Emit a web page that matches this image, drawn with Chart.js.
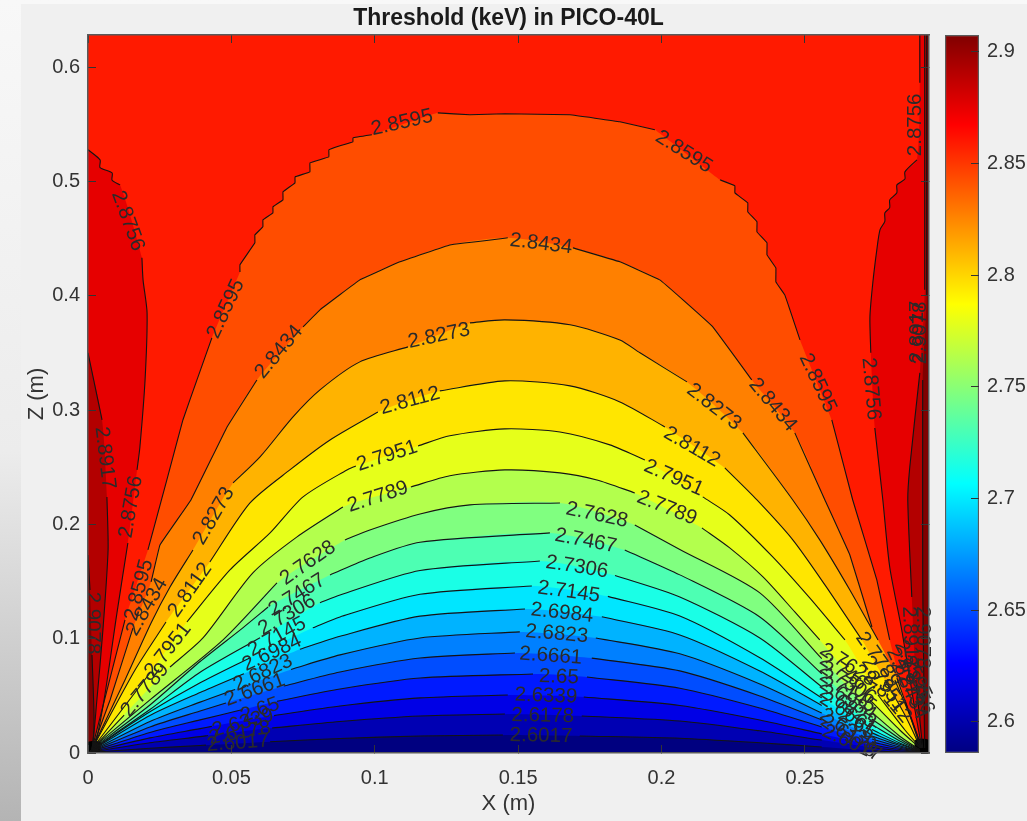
<!DOCTYPE html>
<html>
<head>
<meta charset="utf-8">
<title>Threshold (keV) in PICO-40L</title>
<script src="https://cdn.jsdelivr.net/npm/chart.js@4"></script>
<style>
    html, body { margin: 0; padding: 0; width: 1027px; height: 821px; overflow: hidden; }
    body { position: relative; background: linear-gradient(#f8f8f8 0%, #ececec 55%, #b4b4b4 100%); }
    #panel { position: absolute; left: 21px; top: 4px; width: 1006px; height: 817px; background: #f0f0f0; }
    #graph { position: absolute; left: 0; top: 0; }
    #colorbar { position: absolute; left: 935px; top: 0; }
</style>
</head>
<body>
<div id="panel"></div>
<canvas id="graph" width="935" height="821"></canvas>
<canvas id="colorbar" width="92" height="821"></canvas>
<script>
// Axis ranges and ticks
var xMax = 0.2933;
var zMax = 0.628;
var xTicks = [0, 0.05, 0.1, 0.15, 0.2, 0.25];
var zTicks = [0, 0.1, 0.2, 0.3, 0.4, 0.5, 0.6];
var colorMin = 2.586;
var colorMax = 2.9076;
var colorTicks = [2.6, 2.65, 2.7, 2.75, 2.8, 2.85, 2.9];
var jetStops = [0, 0.125, 0.375, 0.625, 0.875, 1];
var jetColors = ['#000080', '#0000ff', '#00ffff', '#ffff00', '#ff0000', '#800000'];

// Colour of each band, lowest first
var bandColors = ['#000080', '#0000b3', '#0000e6', '#001aff', '#004dff', '#0080ff', '#00b3ff',
    '#00e6ff', '#1affe6', '#4dffb3', '#80ff80', '#b3ff4d', '#e6ff1a', '#ffe600', '#ffb300',
    '#ff8000', '#ff4d00', '#ff1a00', '#e60000', '#b30000', '#800000'];

// Contours as [x, z], null is the break left for a label
var level2_6017 = [[.0014,.0006],[.0216,.0041],[.0391,.0066],[.0411,.0069],null,[.0635,.0099],[.0879,.0127],[.1158,.0149],[.1447,.0157],null,[.1715,.0149],[.2064,.0129],[.2343,.0089],[.2559,.0052],null,[.2734,.0022],[.2831,.0009],[.2901,.0006]];
var level2_6178 = [[.0014,.001],[.0216,.0089],[.0391,.0143],[.0418,.0153],null,[.0642,.0218],[.0879,.0276],[.1158,.0324],[.1454,.0341],null,[.1722,.0324],[.2064,.028],[.2343,.0194],[.2559,.0113],null,[.2734,.0048],[.2831,.002],[.2901,.0008]];
var level2_6339 = [[.0014,.0012],[.0216,.0132],[.0391,.0213],[.0432,.0233],null,[.0649,.0327],[.0879,.0411],[.1158,.0482],[.1464,.0507],null,[.1729,.049],[.2064,.0416],[.2343,.0289],[.2559,.0167],null,[.2734,.0071],[.2831,.003],[.2901,.001]];
var level2_65 = [[.0014,.0015],[.0216,.018],[.0391,.029],[.054,.038],null,[.0659,.0453],[.0879,.056],[.1158,.0656],[.1552,.0691],null,[.174,.0665],[.2064,.0567],[.2343,.0394],[.2559,.0228],null,[.2734,.0097],[.2831,.0041],[.2901,.0012]];
var level2_6661 = [[.0014,.0018],[.0216,.0228],[.0391,.0368],[.0481,.0438],null,[.0683,.0586],[.0879,.0709],[.1158,.0831],[.1489,.0875],null,[.1757,.083],[.2064,.0718],[.2343,.0499],[.2559,.0289],null,[.2734,.0122],[.2831,.0052],[.2901,.0014]];
var level2_6823 = [[.0014,.0021],[.0216,.0275],[.0391,.0445],[.0513,.0556],null,[.0708,.0731],[.0879,.0858],[.1158,.1006],[.1506,.1059],null,[.1771,.1006],[.2064,.0868],[.2343,.0604],[.2559,.0349],null,[.2734,.0148],[.2831,.0064],[.2901,.0016]];
var level2_6984 = [[.0014,.0024],[.0216,.0328],[.0391,.0529],[.0544,.0693],null,[.0739,.0907],[.0879,.1021],[.1158,.1197],[.1524,.126],null,[.1792,.1191],[.2064,.1033],[.2343,.0718],[.2559,.0416],null,[.2734,.0176],[.2831,.0076],[.2901,.0018]];
var level2_7145 = [[.0014,.0028],[.0216,.036],[.0391,.0614],[.0565,.0833],null,[.0784,.1095],[.0879,.119],[.1158,.1388],[.1548,.1461],null,[.1813,.137],[.2064,.1198],[.2343,.0833],[.2559,.0482],null,[.2734,.0205],[.2831,.0088],[.2901,.002]];
var level2_7306 = [[.0014,.0032],[.0216,.038],[.0391,.0706],[.06,.1008],null,[.0809,.1315],[.0879,.1382],[.1158,.1596],[.1576,.168],null,[.1838,.1553],[.2064,.1365],[.2343,.1006],[.2559,.0578],null,[.2734,.0248],[.2831,.0105],[.2901,.0022]];
var level2_7467 = [[.0014,.0036],[.0216,.042],[.0391,.08],[.054,.1095],[.0628,.1277],null,[.0844,.1557],[.0983,.1706],[.1158,.1844],[.1611,.1925],null,[.1872,.1776],[.2064,.1558],[.2343,.119],[.2559,.0693],null,[.2734,.0298],[.2831,.0125],[.2901,.0025]];
var level2_7628 = [[.0014,.004],[.0216,.0464],[.0471,.0989],[.0659,.1487],null,[.0896,.1864],[.0983,.1951],[.1158,.2091],[.1332,.217],[.1646,.2187],null,[.1907,.1995],[.2064,.178],[.2343,.14],[.2559,.0825],null,[.2734,.0355],[.2831,.0147],[.2901,.0028]];
var level2_7789 = [[.0014,.0035],[.0126,.0332],null,[.0286,.0752],[.0401,.1006],[.0575,.1575],[.0729,.189],[.0889,.2152],null,[.1126,.2327],[.1262,.2425],[.1454,.2476],[.1646,.245],[.1775,.2388],[.1907,.2275],null,[.2141,.1969],[.2238,.1794],[.2354,.154],[.2465,.1234],[.2552,.0989],null,[.2727,.0464],[.2831,.0201],[.2901,.0044]];
var level2_7951 = [[.0014,.0035],[.0216,.07],null,[.0345,.1146],[.0495,.1601],[.0635,.1925],[.075,.224],[.0903,.2476],[.0934,.2511],null,[.1151,.2686],[.1262,.2775],[.1454,.2835],[.1646,.2808],[.182,.2695],[.1942,.2563],null,[.2144,.224],[.2238,.2082],[.2388,.1715],[.2517,.1356],[.264,.0989],null,[.2755,.0507],[.2849,.0201],[.2904,.0044]];
var level2_8112 = [[.0014,.0035],[.0164,.0726],[.0272,.1146],null,[.0425,.1671],[.0565,.2187],[.0704,.2476],[.0844,.2738],[.1011,.2983],null,[.1227,.3167],[.1454,.3255],[.1681,.3211],[.1855,.3071],[.2012,.2852],null,[.2221,.2493],[.2333,.2213],[.2458,.1864],[.257,.147],[.2699,.0989],null,[.2779,.0639],[.2849,.0332],[.2904,.0044]];
var level2_8273 = [[.0014,.0035],[.0129,.0639],[.022,.1137],[.0286,.1452],[.0366,.1776],null,[.0506,.2362],[.06,.259],[.0715,.294],[.0809,.3176],[.0948,.3421],[.1116,.3552],null,[.1332,.3762],[.1454,.3788],[.1681,.3745],[.1855,.3613],[.1925,.35],[.2089,.3246],null,[.2284,.28],[.2458,.2213],[.2552,.1864],[.2657,.1426],[.2755,.0989],null,[.2821,.0656],[.2866,.0332],[.2904,.0044]];
var level2_8434 = [[.0014,.0035],[.0077,.0464],[.0157,.1094],null,[.022,.1496],[.0251,.182],[.0359,.2213],[.0485,.2852],[.0589,.3263],null,[.075,.3727],[.0809,.3876],[.0948,.4138],[.1088,.4296],[.1262,.4444],[.1464,.4506],null,[.1691,.4418],[.1855,.4296],[.1994,.4138],[.2075,.3963],[.2179,.3727],[.2315,.3263],null,[.2465,.28],[.257,.2213],[.2657,.1732],[.2734,.1102],null,[.2814,.0639],[.2866,.0332],[.2908,.0044]];
var level2_8595 = [[.0014,.0035],[.0129,.1164],null,[.0209,.1776],[.0275,.2388],[.0331,.2913],[.038,.3263],[.0432,.3631],null,[.053,.4208],[.053,.427],[.0582,.4462],[.0582,.4532],[.061,.4602],[.061,.4663],[.0645,.4724],[.0645,.4777],[.068,.4838],[.068,.4908],[.0722,.4987],[.0722,.5039],[.0774,.5083],[.0774,.5162],[.084,.5214],[.084,.5276],[.0879,.5311],[.0924,.5345],[.0924,.5380],[.099,.5407],null,[.122,.5599],[.1332,.5582],[.1454,.5591],[.1681,.5582],[.1855,.5521],[.1977,.5451],null,[.2204,.5013],[.2256,.4961],[.2256,.4899],[.2301,.4812],[.2301,.4733],[.2333,.4646],[.2333,.4558],[.2368,.4462],[.2368,.4357],[.2399,.4243],[.2399,.4121],[.243,.4007],[.2448,.3876],[.2483,.3613],null,[.2594,.2913],[.2667,.2213],[.2751,.1514],[.2796,.0989],null,[.2849,.0464],[.2908,.0044]];

// Side strips, they close on the plot edges
var left2_8756 = [[0,.5276],[.0042,.5188],[.0042,.5120],[.0084,.5074],[.0084,.5010],[.0112,.4969],null,[.0188,.4331],[.0192,.4138],[.0206,.385],[.0199,.3263],[.0181,.2677],[.0171,.2476],null,[.0139,.1837],[.0101,.1225],[.0056,.0464],[.0021,.0035],[0,0]];
var left2_8917 = [[0,.35],[.0049,.2913],null,[.0066,.224],[.007,.1776],[.0052,.1076],[.0031,.0464],[.0014,.0035],[0,0]];
var left2_9078 = [[0,.1732],[.0007,.1426],null,[.0014,.0857],[.0021,.0289],[.0014,.0035],[0,0]];
var right2_8756 = [[.2901,.628],[.2901,.5862],null,[.2891,.5188],[.2849,.5083],[.2849,.5020],[.2821,.4969],[.2821,.4900],[.2796,.4838],[.2796,.4770],[.2779,.4724],[.2779,.4650],[.2762,.4576],[.2751,.4401],[.2737,.4112],[.2727,.3815],[.273,.35],null,[.2744,.2843],[.2772,.2213],[.2796,.1627],[.2838,.1076],[.2884,.0376],[.2908,.0044]];
var right2_8917 = [[.2918,.628],[.2918,.4051],null,[.2901,.3325],[.2866,.2502],[.2859,.2213],[.2873,.1365],null,[.2887,.0639],[.2911,.0044]];
var right2_9078 = [[.2925,.628],[.2925,.3998],null,[.2911,.3263],[.2911,.1514],[.2915,.0639],[.2918,.0044]];

// Black spots where all the lines meet
var cornerLeft = [[0,0],[0,.0096],[.0042,.0096],[.0042,0]];
var cornerRight = [[.2885,0],[.2885,.0114],[.2933,.0114],[.2933,0]];

var arches = [level2_6017, level2_6178, level2_6339, level2_65, level2_6661, level2_6823, level2_6984,
    level2_7145, level2_7306, level2_7467, level2_7628, level2_7789, level2_7951, level2_8112,
    level2_8273, level2_8434, level2_8595];

// Contour labels
var labelTexts = ['2.8595','2.8595','2.8434','2.8273','2.8112','2.7951','2.7789','2.7628','2.7467','2.7306','2.7145','2.6984','2.6823','2.6661','2.65','2.6339','2.6178','2.6017',
    '2.7789','2.7951','2.8112','2.8273','2.8434','2.8595','2.8756','2.8756','2.8917','2.9078',
    '2.8756','2.8917','2.8756','2.8595','2.8434','2.8273','2.8112','2.8595','2.8434','2.7951','2.7789','2.9078',
    '2.7628','2.7467','2.7306','2.7145','2.6984','2.6823','2.6661','2.65','2.6339','2.6178','2.6017',
    '2.7628','2.7467','2.7306','2.7145','2.6984','2.6823','2.6661','2.65','2.6339','2.6178','2.6017',
    '2.7789','2.7951','2.8112','2.8273','2.8434','2.8595','2.8756','2.8917','2.9078'];
var labelX = [.1095,.2078,.158,.1224,.1123,.1043,.1011,.1775,.1736,.1705,.1677,.1653,.1635,.1614,.1642,.1597,.1586,.158,
    .2019,.2043,.2106,.2183,.2388,.2545,.273,.2884,.2891,.2904,
    .0139,.0059,.015,.0481,.0666,.0439,.0356,.0178,.0206,.0279,.0199,.0017,
    .0767,.0729,.0694,.0659,.0642,.061,.0582,.06,.054,.053,.0523,
    .265,.265,.265,.265,.265,.265,.265,.2681,.265,.2653,.2664,
    .2755,.2776,.279,.2849,.2863,.2877,.2887,.2866,.2911];
var labelY = [.5512,.5258,.4453,.3648,.308,.2598,.224,.2082,.1855,.1627,.1409,.1225,.1041,.0849,.0665,.0499,.0324,.0149,
    .2143,.2406,.2677,.3027,.3045,.3237,.3185,.5494,.3683,.3675,
    .4654,.2581,.2152,.3885,.3508,.2073,.1426,.1426,.1277,.0901,.0551,.1137,
    .1662,.1382,.1207,.1015,.0875,.07,.0551,.0376,.0262,.0175,.0087,
    .077,.0682,.0612,.0542,.0472,.0402,.0341,.0254,.0201,.0146,.0085,
    .0814,.0604,.049,.0665,.0551,.0726,.0595,.101,.101];
var labelAngles = [-13,32,7,-12,-15,-18,-18,12,11,9,8,6,5,4,2,2,1,1,
    22,24,30,38,50,65,85,-90,-90,-90,
    70,83,-80,-65,-50,-60,-55,-75,-60,-52,-50,90,
    -35,-32,-30,-28,-25,-25,-20,-20,-15,-10,-4,
    33,33,33,33,33,33,33,33,33,33,25,
    55,55,50,65,65,65,65,88,90];

function toPoints(list) {
    return list.map(function (p) {
        return p ? { x: p[0], y: p[1] } : { x: null, y: null };
    });
}

// Datasets are painted from the highest order to the lowest
var datasets = [];
var paintOrder = 200;
function curveTension(list) {
    // The two top levels are stepped in the picture
    return list.length > 30 ? 0.05 : 0.25;
}
function addFill(points, color) {
    datasets.push({
        data: toPoints(points),
        showLine: true,
        fill: 'shape',
        backgroundColor: color,
        borderWidth: 0,
        pointRadius: 0,
        tension: curveTension(points),
        order: paintOrder--,
    });
}
function addLine(points) {
    datasets.push({
        data: toPoints(points),
        showLine: true,
        fill: false,
        borderColor: '#141414',
        borderWidth: 1.1,
        pointRadius: 0,
        tension: curveTension(points),
        spanGaps: false,
        order: 1,
    });
}
function solid(list) {
    return list.filter(function (p) { return p; });
}

// Background band, then strips and arches on top of it
addFill([[0, 0], [0, zMax], [xMax, zMax], [xMax, 0]], bandColors[17]);
[left2_8756, left2_8917, left2_9078].forEach(function (c, i) {
    addFill(solid(c), bandColors[18 + i]);
});
[right2_8756, right2_8917, right2_9078].forEach(function (c, i) {
    addFill([[xMax, zMax]].concat(solid(c), [[xMax, 0]]), bandColors[18 + i]);
});
for (var k = arches.length - 1; k >= 0; k--) {
    addFill([[0, 0]].concat(solid(arches[k]), [[xMax, 0]]), bandColors[k]);
}
addFill(cornerLeft, '#000000');
addFill(cornerRight, '#000000');
arches.concat([left2_8756, left2_8917, left2_9078, right2_8756, right2_8917, right2_9078]).forEach(addLine);

// Labels on the contours
var contourLabels = {
    id: 'contourLabels',
    afterDatasetsDraw: function (chart) {
        var ctx = chart.ctx;
        ctx.save();
        ctx.font = '20.5px "Liberation Sans"';
        ctx.fillStyle = '#2a2a2a';
        ctx.textAlign = 'center';
        ctx.textBaseline = 'middle';
        labelTexts.forEach(function (text, i) {
            ctx.save();
            ctx.translate(chart.scales.x.getPixelForValue(labelX[i]), chart.scales.y.getPixelForValue(labelY[i]));
            ctx.rotate(labelAngles[i] * Math.PI / 180);
            ctx.fillText(text, 0, 0);
            ctx.restore();
        });
        ctx.restore();
    },
};

function useTicks(values) {
    return function (scale) {
        scale.ticks = values.map(function (v) { return { value: v }; });
    };
}
var tickFont = { family: '"Liberation Sans"', size: 20 };
var axisTitleFont = { family: '"Liberation Sans"', size: 22 };
var axisBorder = { color: '#5a5a5a', width: 1.5, z: 2 };
var tickGrid = { drawOnChartArea: false, tickLength: -8, tickColor: '#333333', z: 1 };

new Chart(document.getElementById('graph'), {
    type: 'scatter',
    data: { datasets: datasets },
    plugins: [contourLabels],
    options: {
        responsive: false,
        animation: false,
        events: [],
        devicePixelRatio: 1,
        layout: { padding: { right: 6 } },
        plugins: {
            legend: { display: false },
            tooltip: { enabled: false },
            title: {
                display: true,
                text: 'Threshold (keV) in PICO-40L',
                fullSize: false,
                color: '#1a1a1a',
                font: { family: '"Liberation Sans"', size: 23, weight: 'bold', lineHeight: 1.2 },
                padding: { top: 5, bottom: 2.4 },
            },
        },
        scales: {
            x: {
                type: 'linear', position: 'bottom', min: 0, max: xMax,
                afterBuildTicks: useTicks(xTicks),
                afterFit: function (s) { s.height = 68; },
                grid: tickGrid, border: axisBorder,
                ticks: {
                    font: tickFont, color: '#333333', padding: 21, maxRotation: 0, autoSkip: false,
                    callback: function (v) { return String(v); },
                },
                title: { display: true, text: 'X (m)', color: '#333333', font: axisTitleFont, padding: { top: 0, bottom: 4 } },
            },
            y: {
                type: 'linear', position: 'left', min: 0, max: zMax,
                afterBuildTicks: useTicks(zTicks),
                afterFit: function (s) { s.width = 88; },
                grid: tickGrid, border: axisBorder,
                ticks: {
                    font: tickFont, color: '#333333', padding: 16, autoSkip: false,
                    callback: function (v) { return String(v); },
                },
                title: { display: true, text: 'Z (m)', color: '#333333', font: axisTitleFont, padding: { top: 24, bottom: 0 } },
            },
            xTop: {
                type: 'linear', axis: 'x', position: 'top', min: 0, max: xMax,
                afterBuildTicks: useTicks(xTicks),
                afterFit: function (s) { s.height = 0; },
                grid: tickGrid, border: axisBorder,
                ticks: { display: false, autoSkip: false },
            },
            yRight: {
                type: 'linear', axis: 'y', position: 'right', min: 0, max: zMax,
                afterBuildTicks: useTicks(zTicks),
                afterFit: function (s) { s.width = 0; },
                grid: tickGrid, border: axisBorder,
                ticks: { display: false, autoSkip: false },
            },
        },
    },
});

// Colour bar
function jetGradient(context) {
    var chart = context.chart;
    if (!chart.chartArea) {
        return jetColors[0];
    }
    var g = chart.ctx.createLinearGradient(0, chart.chartArea.bottom, 0, chart.chartArea.top);
    jetStops.forEach(function (s, i) { g.addColorStop(s, jetColors[i]); });
    return g;
}
new Chart(document.getElementById('colorbar'), {
    type: 'bar',
    data: {
        labels: [''],
        datasets: [{
            data: [[colorMin, colorMax]],
            backgroundColor: jetGradient,
            borderColor: '#5a5a5a',
            borderWidth: 1.5,
            borderSkipped: false,
            barPercentage: 1,
            categoryPercentage: 1,
        }],
    },
    options: {
        responsive: false,
        animation: false,
        events: [],
        devicePixelRatio: 1,
        layout: { padding: { left: 10, top: 35, bottom: 68 } },
        plugins: { legend: { display: false }, tooltip: { enabled: false } },
        scales: {
            x: { display: false },
            y: {
                position: 'right', min: colorMin, max: colorMax,
                afterBuildTicks: useTicks(colorTicks),
                afterFit: function (s) { s.width = 48; },
                grid: tickGrid,
                border: { display: false },
                ticks: {
                    font: tickFont, color: '#333333', padding: 16, autoSkip: false,
                    callback: function (v) { return String(v); },
                },
            },
        },
    },
});
</script>
</body>
</html>
